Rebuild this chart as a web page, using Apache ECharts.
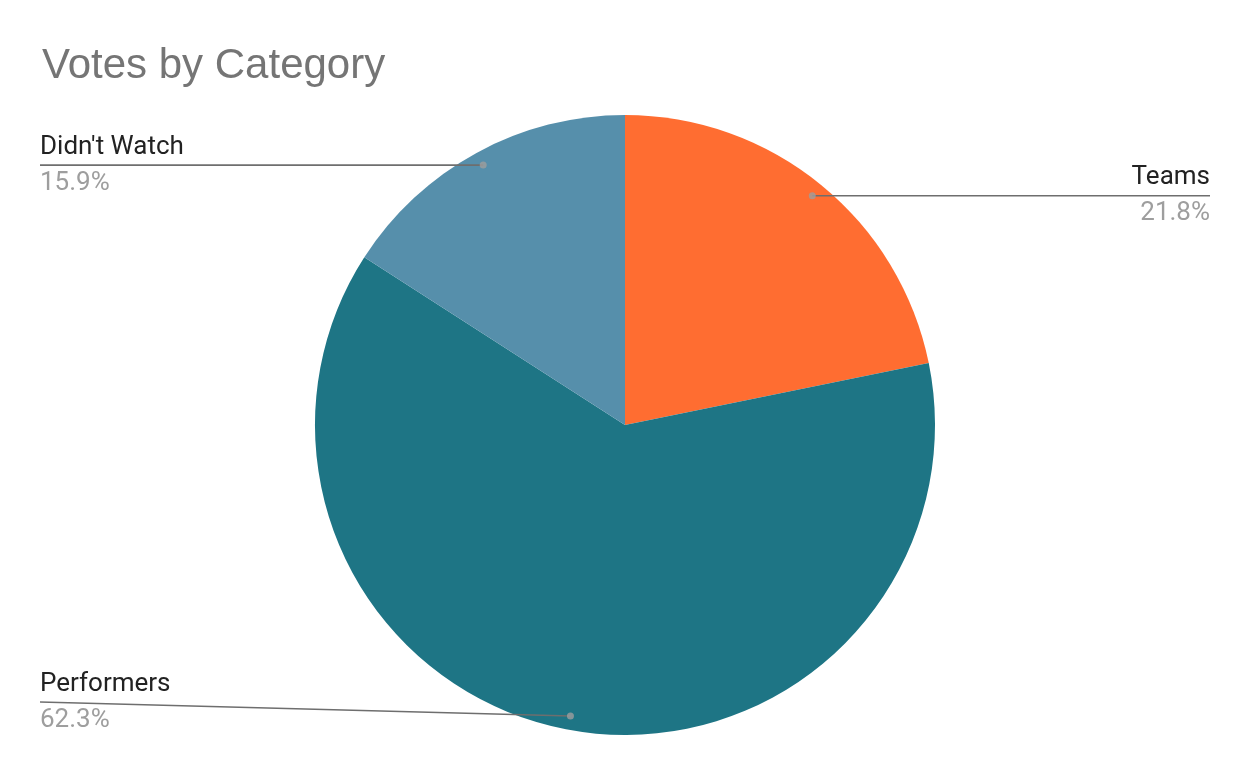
<!DOCTYPE html>
<html>
<head>
<meta charset="utf-8">
<title>Votes by Category</title>
<script src="https://cdn.jsdelivr.net/npm/echarts@6/dist/echarts.min.js"></script>
<style>
  html, body { margin: 0; padding: 0; background: #fff; }
  #pieChart { width: 1250px; height: 772px; }
</style>
</head>
<body>
<div id="pieChart"></div>
<script>
// data
var categories = ['Teams', 'Performers', "Didn't Watch"]
var votes = [21.8, 62.3, 15.9]
var colors = ['#FF6D31', '#1E7585', '#568FAB']

var pieData = []
var dotData = []
var total = 0
for (var i = 0; i < votes.length; i++) total += votes[i]
var acc = 0
for (var i = 0; i < categories.length; i++) {
    pieData.push({ name: categories[i], value: votes[i] })
    // small dot where each label line starts: middle of the slice, just inside the rim
    dotData.push([0.955, acc + votes[i] / 2])
    acc += votes[i]
}

var pieCenterY = 425
var pieRadius = 310
var lineStart = 0.955

var pieChart = echarts.init(document.getElementById('pieChart'))

// labels go on a see-through copy of the pie so that the lines sit on top of the slices
function labelLayout(params) {
    var pts = params.labelLinePoints
    if (!pts) return {}
    var cx = pieChart.getWidth() / 2
    var p0 = pts[0]
    // pull the start point a little inside the slice
    var start = [cx + (p0[0] - cx) * lineStart, pieCenterY + (p0[1] - pieCenterY) * lineStart]
    var r = params.labelRect
    var isLeft = r.x + r.width / 2 < cx
    var endX = isLeft ? r.x : r.x + r.width
    // keep the label inside the chart box
    var y = Math.min(start[1], pieChart.getHeight() - 70)
    return {
        y: y,
        verticalAlign: 'middle',
        labelLinePoints: [start, [start[0], start[1]], [endX, y]]
    }
}

var option = {
    animation: false,
    color: colors,
    title: {
        text: 'Votes by Category',
        left: 37,
        top: 40,
        textStyle: {
            fontFamily: 'Liberation Sans',
            fontSize: 42,
            fontWeight: 'normal',
            color: '#757575'
        }
    },
    polar: {
        center: ['50%', pieCenterY],
        radius: pieRadius
    },
    angleAxis: {
        type: 'value',
        min: 0,
        max: total,
        startAngle: 90,
        clockwise: true,
        show: false
    },
    radiusAxis: {
        type: 'value',
        min: 0,
        max: 1,
        show: false
    },
    series: [
        {
            type: 'pie',
            z: 2,
            center: ['50%', pieCenterY],
            radius: pieRadius,
            startAngle: 90,
            clockwise: true,
            data: pieData,
            label: { show: false },
            labelLine: { show: false }
        },
        {
            type: 'pie',
            z: 5,
            center: ['50%', pieCenterY],
            radius: pieRadius,
            startAngle: 90,
            clockwise: true,
            percentPrecision: 1,
            silent: true,
            data: pieData,
            itemStyle: { color: 'rgba(0,0,0,0)' },
            label: {
                position: 'outside',
                alignTo: 'edge',
                edgeDistance: 40,
                formatter: '{name|{b}}\n{pct|{d}%}',
                rich: {
                    name: { fontFamily: 'Roboto', fontSize: 26, color: '#222222', lineHeight: 36 },
                    pct: { fontFamily: 'Roboto', fontSize: 26, color: '#9E9E9E', lineHeight: 36 }
                }
            },
            labelLine: {
                show: true,
                length: 10,
                length2: 10,
                lineStyle: { color: '#6E6E6E', width: 1.6 }
            },
            labelLayout: labelLayout
        },
        {
            type: 'scatter',
            coordinateSystem: 'polar',
            z: 6,
            silent: true,
            symbolSize: 7,
            itemStyle: { color: '#9E9E9E' },
            data: dotData
        }
    ]
}
pieChart.setOption(option)
</script>
</body>
</html>
